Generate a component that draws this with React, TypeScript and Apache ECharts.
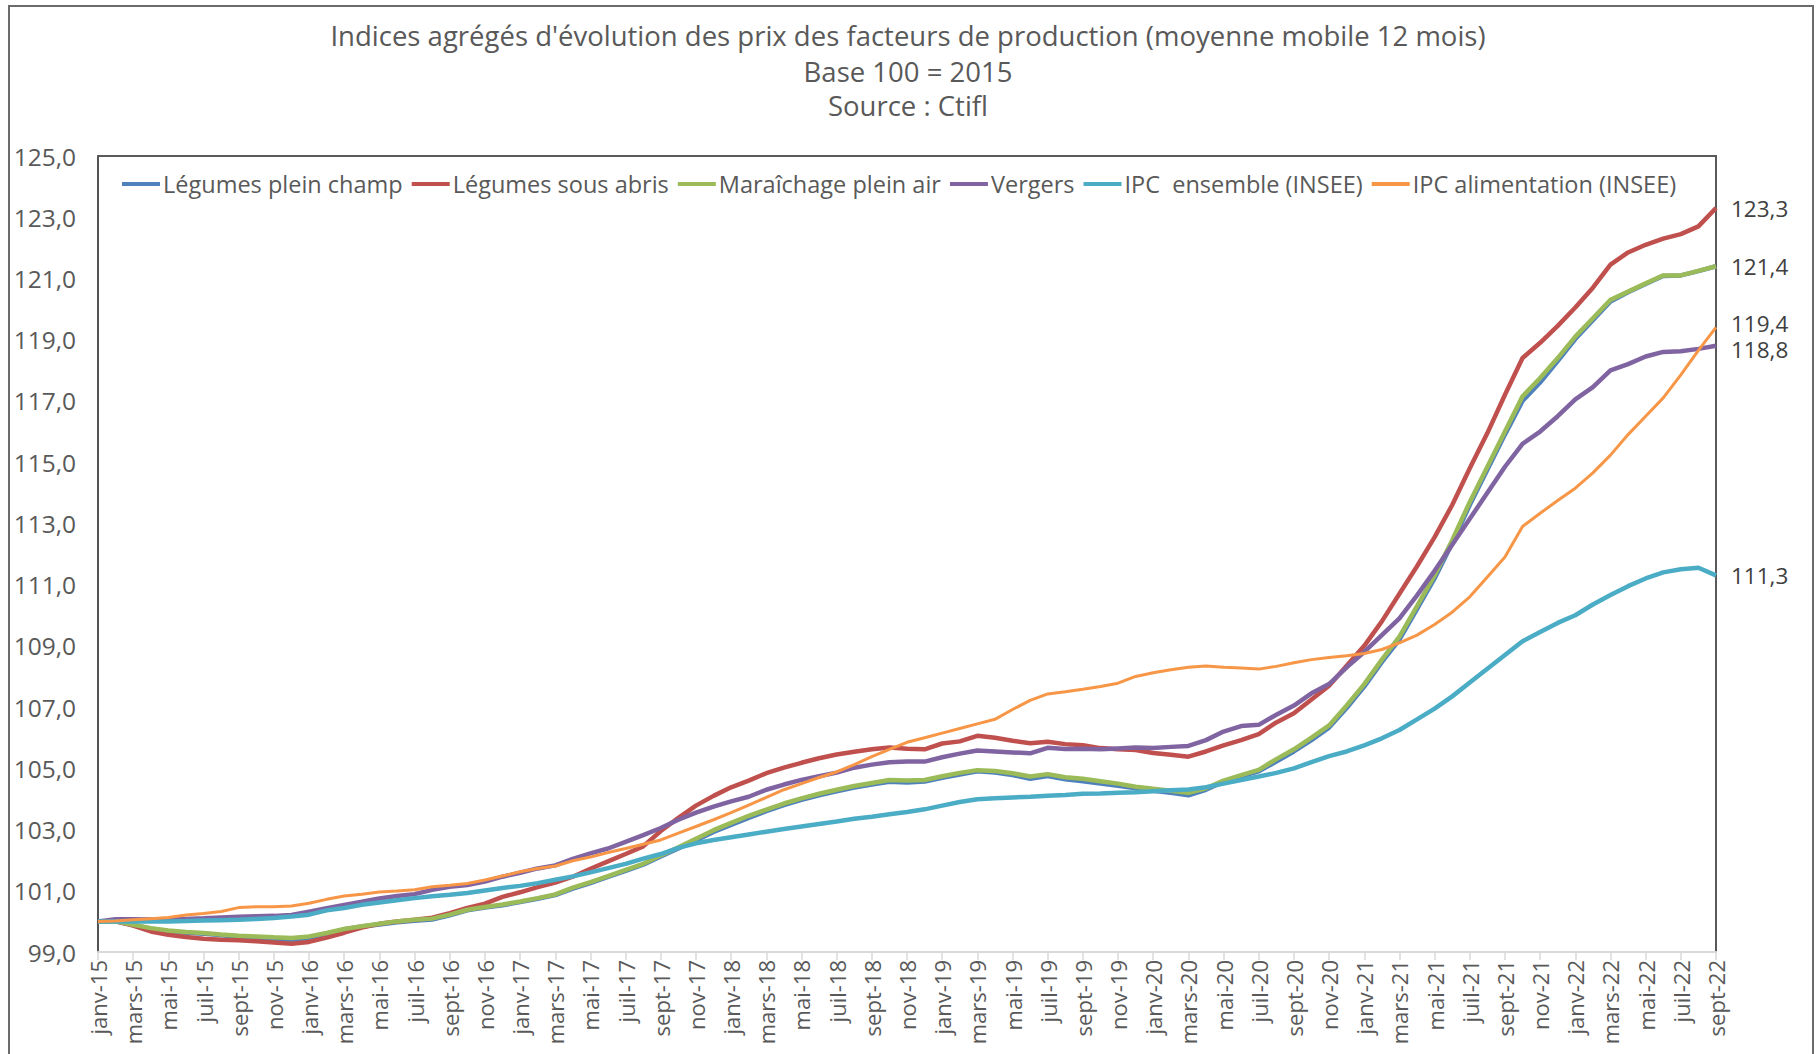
import React, { useEffect, useRef } from 'react';
import * as echarts from 'echarts';

const monthNames = ['janv', 'févr', 'mars', 'avr', 'mai', 'juin', 'juil', 'août', 'sept', 'oct', 'nov', 'déc'];
const yearSuffixes = ['15', '16', '17', '18', '19', '20', '21', '22'];
const monthCount = 93; // janv-15 .. sept-22

const categories: string[] = [];
for (const y of yearSuffixes) for (const m of monthNames) categories.push(`${m}-${y}`);
categories.length = monthCount;

const titleLines = [
  "Indices agrégés d'évolution des prix des facteurs de production (moyenne mobile 12 mois)",
  'Base 100 = 2015',
  'Source : Ctifl',
];

const seriesNames = [
  'Légumes plein champ',
  'Légumes sous abris',
  'Maraîchage plein air',
  'Vergers',
  'IPC  ensemble (INSEE)',
  'IPC alimentation (INSEE)',
];

const legumesPleinChamp = [
  100.0, 100.0, 99.88, 99.76, 99.68, 99.63, 99.6, 99.55, 99.5, 99.47, 99.43, 99.4,
  99.46, 99.6, 99.74, 99.83, 99.9, 99.97, 100.02, 100.06, 100.2, 100.36, 100.45, 100.53,
  100.63, 100.74, 100.86, 101.07, 101.25, 101.45, 101.65, 101.85, 102.12, 102.38, 102.64, 102.92,
  103.15, 103.38, 103.6, 103.8, 103.97, 104.12, 104.25, 104.37, 104.47, 104.56, 104.54, 104.57,
  104.69, 104.8, 104.9, 104.86, 104.78, 104.66, 104.75, 104.64, 104.58, 104.5, 104.43, 104.35,
  104.27, 104.2, 104.12, 104.3, 104.56, 104.74, 104.9, 105.22, 105.55, 105.92, 106.33, 106.97,
  107.67, 108.47, 109.2, 110.2, 111.2, 112.35, 113.6, 114.75, 115.9, 117.0, 117.6, 118.3,
  119.02, 119.64, 120.25, 120.55, 120.82, 121.08, 121.1, 121.24, 121.4,
];

const legumesSousAbris = [
  100.0, 100.0, 99.86, 99.67, 99.56, 99.49, 99.43, 99.4, 99.38, 99.35, 99.31, 99.27,
  99.33, 99.47, 99.63, 99.8, 99.92, 100.0, 100.05, 100.12, 100.27, 100.44, 100.58, 100.8,
  100.95, 101.12, 101.27, 101.46, 101.72, 101.96, 102.2, 102.45, 102.95, 103.38, 103.78, 104.1,
  104.38, 104.6, 104.84, 105.02, 105.18, 105.33, 105.45, 105.54, 105.62, 105.68, 105.64, 105.62,
  105.81, 105.88, 106.06, 106.0, 105.9, 105.82, 105.87, 105.79, 105.75, 105.66, 105.62, 105.6,
  105.5, 105.44, 105.38, 105.55, 105.75, 105.92, 106.12, 106.5, 106.8, 107.25, 107.7, 108.35,
  109.0, 109.8, 110.7, 111.6, 112.55, 113.6, 114.8, 115.95, 117.2, 118.4, 118.9, 119.45,
  120.05, 120.7, 121.45, 121.85, 122.1, 122.3, 122.45, 122.7, 123.3,
];

const maraichagePleinAir = [
  100.0, 100.0, 99.89, 99.78, 99.7, 99.65, 99.62, 99.57, 99.53, 99.51, 99.48, 99.46,
  99.51, 99.62, 99.75, 99.84, 99.92, 100.0, 100.05, 100.09, 100.22, 100.38, 100.47, 100.55,
  100.65, 100.76, 100.88, 101.1, 101.28, 101.48, 101.68, 101.88, 102.15, 102.42, 102.7, 102.98,
  103.22, 103.45, 103.65, 103.85, 104.02, 104.17, 104.3, 104.42, 104.52, 104.62, 104.6, 104.62,
  104.74, 104.85, 104.94, 104.91, 104.84, 104.73, 104.81, 104.71, 104.66, 104.58, 104.5, 104.4,
  104.33, 104.27, 104.2, 104.35, 104.6, 104.78, 104.95, 105.3, 105.62, 106.0, 106.4, 107.05,
  107.75, 108.55, 109.3, 110.3, 111.3, 112.45, 113.7, 114.85, 116.0, 117.15, 117.75, 118.4,
  119.1, 119.7, 120.3, 120.57, 120.84, 121.1, 121.1, 121.25, 121.4,
];

const vergers = [
  100.0, 100.07, 100.07, 100.06, 100.05, 100.08, 100.1, 100.13, 100.15, 100.17, 100.18, 100.21,
  100.32, 100.43, 100.54, 100.64, 100.75, 100.83, 100.89, 101.03, 101.13, 101.19, 101.3, 101.46,
  101.59, 101.73, 101.83, 102.04, 102.22, 102.38, 102.6, 102.82, 103.05, 103.32, 103.55, 103.75,
  103.92, 104.07, 104.3, 104.47, 104.62, 104.74, 104.86, 105.02, 105.12, 105.2, 105.22, 105.22,
  105.36, 105.48, 105.58, 105.55, 105.52, 105.49, 105.67, 105.63, 105.64, 105.62, 105.65, 105.68,
  105.66, 105.7, 105.73, 105.92, 106.2, 106.38, 106.42, 106.75, 107.05, 107.45, 107.75, 108.3,
  108.8, 109.35, 109.9, 110.65, 111.45, 112.3, 113.15, 114.0, 114.85, 115.6, 116.0, 116.5,
  117.05, 117.45, 118.0, 118.2, 118.45, 118.6, 118.62, 118.7, 118.8,
];

const ipcEnsemble = [
  100.0, 100.0, 100.0, 100.0, 100.0, 100.01, 100.03, 100.04, 100.05, 100.08, 100.11, 100.16,
  100.22, 100.36, 100.44, 100.54, 100.62, 100.69, 100.76, 100.82, 100.87, 100.93, 101.01, 101.09,
  101.16, 101.25, 101.36, 101.47, 101.6, 101.74, 101.88, 102.05, 102.2, 102.4, 102.55, 102.66,
  102.75, 102.84, 102.93, 103.02, 103.1, 103.18, 103.26, 103.35, 103.42, 103.5, 103.57, 103.66,
  103.78, 103.9, 103.99, 104.02, 104.05, 104.07, 104.1, 104.13, 104.17, 104.18, 104.2, 104.22,
  104.25, 104.28, 104.31, 104.38, 104.5, 104.62, 104.73, 104.85, 105.0, 105.2, 105.4, 105.55,
  105.75, 105.98, 106.25, 106.6, 106.95, 107.35, 107.8, 108.25, 108.7, 109.15, 109.45, 109.75,
  110.0, 110.35, 110.66, 110.95, 111.2, 111.4, 111.5, 111.55, 111.3,
];

const ipcAlimentation = [
  100.0, 100.01, 100.05, 100.09, 100.13, 100.21, 100.26, 100.32, 100.45, 100.48, 100.48, 100.5,
  100.59, 100.72, 100.83, 100.89, 100.96, 100.99, 101.03, 101.13, 101.18, 101.24, 101.35, 101.48,
  101.62, 101.73, 101.81, 101.98, 102.1, 102.25, 102.38, 102.52, 102.66, 102.88, 103.1, 103.32,
  103.55, 103.8, 104.05, 104.3, 104.5, 104.7, 104.88, 105.12, 105.38, 105.62, 105.85, 106.0,
  106.15, 106.3, 106.45, 106.6, 106.92, 107.22, 107.43, 107.5, 107.58, 107.67, 107.78, 108.0,
  108.12, 108.22, 108.3, 108.34, 108.3, 108.28, 108.24, 108.33, 108.45, 108.55, 108.62, 108.68,
  108.75, 108.88, 109.1, 109.35, 109.7, 110.1, 110.6, 111.25, 111.9, 112.9, 113.33, 113.75,
  114.15, 114.65, 115.23, 115.9, 116.5, 117.1, 117.85, 118.65, 119.4,
];

const seriesValues = [legumesPleinChamp, legumesSousAbris, maraichagePleinAir, vergers, ipcEnsemble, ipcAlimentation];
const seriesColors = ['#4f81bd', '#c0504d', '#9bbb59', '#8064a2', '#4bacc6', '#f79646'];
const seriesWidths = [4.5, 4.5, 4.5, 4.5, 4.5, 3];
const showEndLabel = [false, true, true, true, true, true];
// small vertical nudges so the two close end labels (119,4 / 118,8) stay legible
const endLabelOffsets = [[0, 0], [0, 0], [0, 0], [0, 4], [0, 0], [0, -4]];

const FONT = "'Open Sans', 'Noto Sans', 'DejaVu Sans', sans-serif";
const TEXT = '#595959';
const fmt = (v: number) => v.toFixed(1).replace('.', ',');

export default function App() {
  const ref = useRef<HTMLDivElement>(null);

  useEffect(() => {
    if (!ref.current) return;
    const chart = echarts.init(ref.current, null, { renderer: 'svg' });
    const titleTops = [18, 54, 88];
    const option: any = {
      animation: false,
      backgroundColor: '#ffffff',
      title: titleLines.map((t, i) => ({
        text: t,
        left: 'center',
        top: titleTops[i],
        padding: 0,
        textStyle: { fontFamily: FONT, fontSize: 27.5, fontWeight: 'normal', color: TEXT, lineHeight: 34 },
      })),
      legend: {
        data: seriesNames,
        left: 122,
        top: 172,
        padding: 0,
        icon: 'rect',
        itemWidth: 38,
        itemHeight: 4,
        itemGap: 9,
        textStyle: { fontFamily: FONT, fontSize: 23.5, color: TEXT, padding: [0, 0, 0, -2] },
      },
      grid: { left: 98, top: 156, width: 1618, height: 796, containLabel: false },
      xAxis: [
        {
          type: 'category',
          data: categories,
          boundaryGap: false,
          axisLine: { onZero: false, lineStyle: { color: '#d9d9d9', width: 2 } },
          axisTick: { show: true, interval: 1, length: 8, lineStyle: { color: '#d9d9d9', width: 1.5 } },
          axisLabel: { interval: 1, rotate: 90, fontFamily: FONT, fontSize: 22, color: TEXT, margin: 8 },
          splitLine: { show: false },
        },
        {
          type: 'category',
          data: categories,
          position: 'top',
          boundaryGap: false,
          axisLine: { onZero: false, lineStyle: { color: '#595959', width: 2 } },
          axisTick: { show: false },
          axisLabel: { show: false },
          splitLine: { show: false },
        },
      ],
      yAxis: [
        {
          type: 'value',
          min: 99,
          max: 125,
          interval: 2,
          axisLine: { show: true, onZero: false, lineStyle: { color: '#1a1a1a', width: 1.5 } },
          axisTick: { show: false },
          splitLine: { show: false },
          axisLabel: { formatter: (v: number) => fmt(v), fontFamily: FONT, fontSize: 24.5, color: TEXT, margin: 22 },
        },
        {
          type: 'value',
          position: 'right',
          min: 99,
          max: 125,
          interval: 2,
          axisLine: { show: true, onZero: false, lineStyle: { color: '#595959', width: 2 } },
          axisTick: { show: false },
          splitLine: { show: false },
          axisLabel: { show: false },
        },
      ],
      graphic: [
        {
          type: 'rect',
          silent: true,
          z: -10,
          shape: { x: 9, y: 6, width: 1804, height: 1080 },
          style: { fill: 'none', stroke: '#6b6b6b', lineWidth: 2 },
        },
      ],
      series: seriesNames.map((name, i) => ({
        name,
        type: 'line',
        data: seriesValues[i],
        xAxisIndex: 0,
        yAxisIndex: 0,
        symbol: 'none',
        smooth: false,
        color: seriesColors[i],
        lineStyle: { color: seriesColors[i], width: seriesWidths[i] },
        endLabel: {
          show: showEndLabel[i],
          formatter: (p: any) => fmt(Array.isArray(p.value) ? p.value[1] : p.value),
          distance: 15,
          offset: endLabelOffsets[i],
          fontFamily: FONT,
          fontSize: 22.5,
          lineHeight: 18,
          color: '#404040',
        },
        emphasis: { disabled: true },
      })),
    };
    chart.setOption(option);
    return () => chart.dispose();
  }, []);

  return (
    <div
      ref={ref}
      style={{ position: 'fixed', left: 0, top: 0, width: 1816, height: 1054, background: '#ffffff' }}
    />
  );
}
